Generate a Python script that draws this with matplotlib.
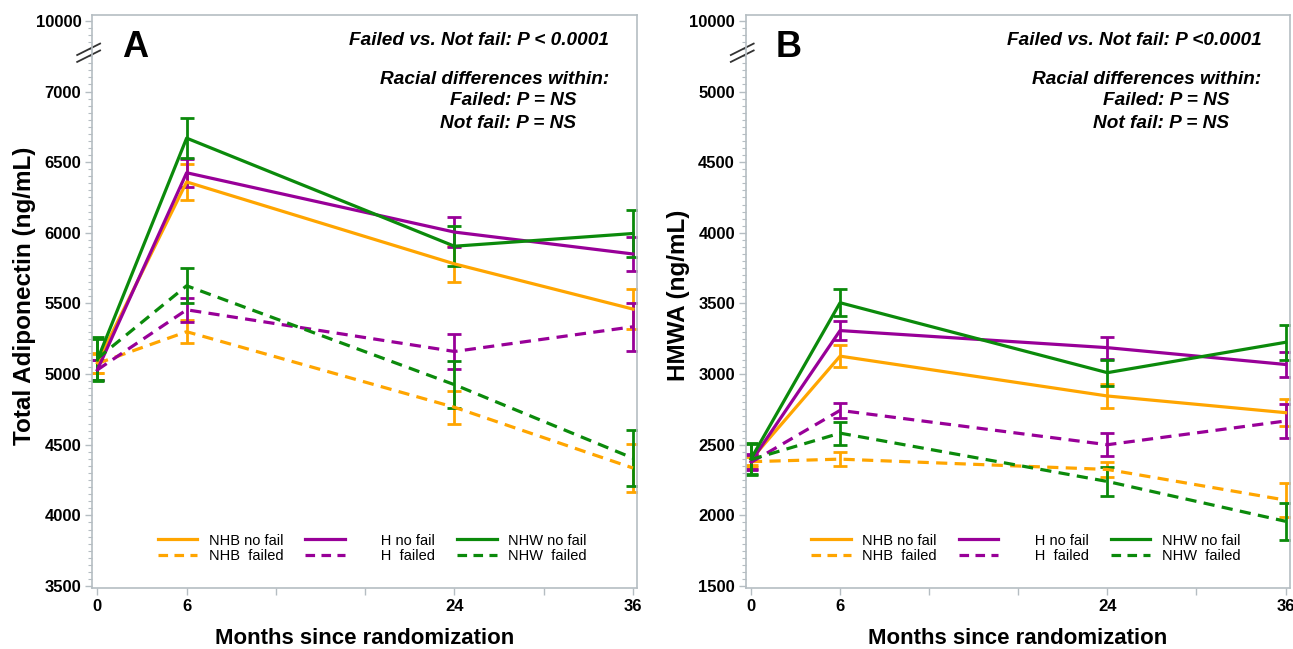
import numpy as np
import matplotlib
matplotlib.use('Agg')
import matplotlib.pyplot as plt
from matplotlib.lines import Line2D
from matplotlib.ticker import MultipleLocator, FixedLocator

plt.rcParams['font.family'] = ['Liberation Sans', 'DejaVu Sans']

# data
months = [0, 6, 24, 36]
groups = ['NHB', 'H', 'NHW']
colors = {'NHB': '#FFA500', 'H': '#980098', 'NHW': '#0B8A0B'}
nofail_labels = {'NHB': 'NHB no fail', 'H': '      H no fail', 'NHW': 'NHW no fail'}
failed_labels = {'NHB': 'NHB  failed', 'H': '      H  failed', 'NHW': 'NHW  failed'}

# panel A: total adiponectin (ng/mL)
a_nofail = {'NHB': [5080, 6360, 5780, 5460],
            'H':   [5030, 6425, 6005, 5850],
            'NHW': [5100, 6670, 5905, 5995]}
a_nofail_err = {'NHB': [70, 125, 130, 140],
                'H':   [70, 100, 105, 120],
                'NHW': [150, 140, 140, 165]}
a_failed = {'NHB': [5075, 5300, 4765, 4335],
            'H':   [5030, 5455, 5160, 5335],
            'NHW': [5110, 5625, 4925, 4405]}
a_failed_err = {'NHB': [70, 80, 115, 170],
                'H':   [70, 85, 125, 170],
                'NHW': [150, 125, 165, 200]}

# panel B: HMWA (ng/mL)
b_nofail = {'NHB': [2395, 3127, 2845, 2727],
            'H':   [2380, 3308, 3187, 3068],
            'NHW': [2400, 3505, 3010, 3225]}
b_nofail_err = {'NHB': [35, 80, 82, 95],
                'H':   [55, 70, 78, 88],
                'NHW': [110, 95, 92, 125]}
b_failed = {'NHB': [2380, 2398, 2325, 2108],
            'H':   [2375, 2743, 2500, 2668],
            'NHW': [2395, 2582, 2240, 1958]}
b_failed_err = {'NHB': [35, 50, 50, 120],
                'H':   [55, 52, 82, 120],
                'NHW': [110, 82, 103, 133]}

a_yticks = [3500, 4000, 4500, 5000, 5500, 6000, 6500, 7000, 7500]
a_ylabels = ['3500', '4000', '4500', '5000', '5500', '6000', '6500', '7000', '10000']
b_yticks = [1500, 2000, 2500, 3000, 3500, 4000, 4500, 5000, 5500]
b_ylabels = ['1500', '2000', '2500', '3000', '3500', '4000', '4500', '5000', '10000']
xticks = [0, 6, 12, 18, 24, 30, 36]
xlabels = ['0', '6', '', '', '24', '', '36']

p_main = ['Failed vs. Not fail: P < 0.0001', 'Failed vs. Not fail: P <0.0001']

spine_col = '#b5bdc2'
dash = (0, (3.5, 2.3))
leg_dash = (0, (3.0, 2.0))


def draw_panel(ax, nofail, nofail_err, failed, failed_err, yticks, ylabels,
               ylim, ylabel, letter, ptext):
    handles = []
    for g in groups:
        c = colors[g]
        ax.errorbar(months, nofail[g], yerr=nofail_err[g], color=c, lw=2.3,
                    elinewidth=2, capsize=5, capthick=2)
        ax.errorbar(months, failed[g], yerr=failed_err[g], color=c, lw=2.3,
                    ls=dash, elinewidth=2, capsize=5, capthick=2)
        handles.append(Line2D([], [], color=c, lw=2.3, label=nofail_labels[g]))
        handles.append(Line2D([], [], color=c, lw=2.3, ls=leg_dash, label=failed_labels[g]))

    ax.set_xlim(-0.33, 36.3)
    ax.set_ylim(*ylim)
    ax.xaxis.set_major_locator(FixedLocator(xticks))
    ax.set_xticklabels(xlabels)
    ax.yaxis.set_major_locator(FixedLocator(yticks))
    ax.set_yticklabels(ylabels)
    ax.yaxis.set_minor_locator(MultipleLocator(50))
    ax.tick_params(axis='both', which='major', labelsize=12, length=5,
                   width=1, color=spine_col, pad=3)
    ax.tick_params(axis='y', which='minor', length=3, width=0.8, color=spine_col)
    for lab in ax.get_xticklabels() + ax.get_yticklabels():
        lab.set_fontweight('bold')
    for s in ax.spines.values():
        s.set_color(spine_col)
        s.set_linewidth(1.2)

    ax.set_xlabel('Months since randomization', fontsize=16, fontweight='bold',
                  labelpad=10)
    ax.set_ylabel(ylabel, fontsize=17.5, fontweight='bold')
    ax.yaxis.set_label_coords(-0.103, 0.51)

    # axis break marks
    for dy in (0.0, 0.012):
        ax.plot([-0.028, 0.014], [0.918 + dy, 0.938 + dy], transform=ax.transAxes,
                color='#333333', lw=1.3, clip_on=False)

    ax.text(0.078, 0.943, letter, transform=ax.transAxes, fontsize=26,
            fontweight='bold', ha='center', va='center')

    kw = dict(transform=ax.transAxes, fontsize=13.7, fontweight='bold',
              style='italic', va='center')
    ax.text(0.948, 0.956, ptext, ha='right', **kw)
    ax.text(0.948, 0.888, 'Racial differences within:', ha='right', **kw)
    ax.text(0.888, 0.850, 'Failed: P = NS', ha='right', **kw)
    ax.text(0.888, 0.811, 'Not fail: P = NS', ha='right', **kw)

    ax.legend(handles=handles, ncol=3, loc='upper left', bbox_to_anchor=(0.12, 0.095),
              frameon=False, fontsize=10.5, handlelength=2.7, handletextpad=0.8,
              columnspacing=1.5, labelspacing=0.12, borderpad=0, borderaxespad=0)


fig = plt.figure(figsize=(12.93, 6.49), dpi=100)
ax1 = fig.add_axes([0.0715, 0.094, 0.4215, 0.883])
ax2 = fig.add_axes([0.577, 0.094, 0.4207, 0.883])

draw_panel(ax1, a_nofail, a_nofail_err, a_failed, a_failed_err, a_yticks,
           a_ylabels, (3486, 7542), 'Total Adiponectin (ng/mL)', 'A', p_main[0])
draw_panel(ax2, b_nofail, b_nofail_err, b_failed, b_failed_err, b_yticks,
           b_ylabels, (1486, 5542), 'HMWA (ng/mL)', 'B', p_main[1])

fig.savefig('out.png', dpi=100)
